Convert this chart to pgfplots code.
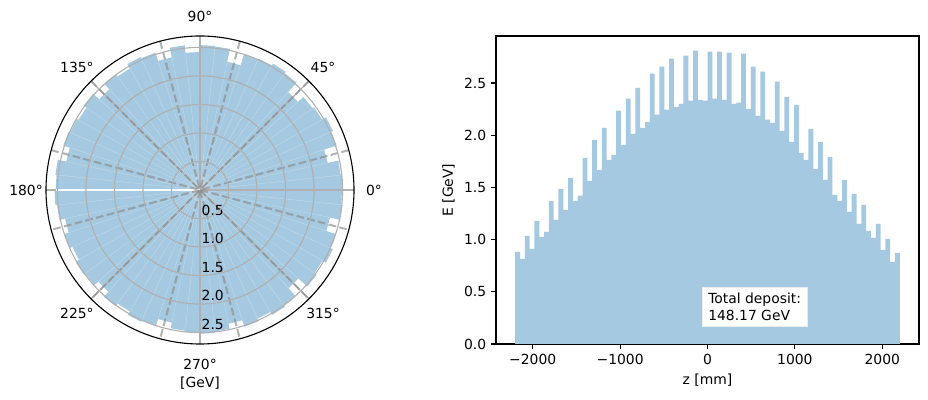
\documentclass[border=0pt]{standalone}
\usepackage{fontspec}
\setmainfont{DejaVu Sans}
\usepackage{pgfplots}
\pgfplotsset{compat=1.18}
\usepgfplotslibrary{polar}
\definecolor{barblue}{RGB}{165,201,225}
\definecolor{gridgray}{RGB}{176,176,176}
\pgfplotsset{dashline/.style={black!45, opacity=0.65, line width=1.5pt, dash pattern=on 5.55pt off 2.4pt}}
\pgfplotsset{radgrid/.style={gridgray, line width=0.8pt}}
\tikzset{rlab/.style={anchor=south west, inner sep=0pt, xshift=1pt, yshift=2pt, font=\fontsize{10}{12}\selectfont}}

\pgfplotstableread{
z E
-2200 0.882
-2145 0.815
-2090 1.035
-2035 0.911
-1980 1.179
-1925 1.026
-1870 1.074
-1815 1.371
-1760 1.189
-1705 1.486
-1650 1.285
-1595 1.592
-1540 1.371
-1485 1.422
-1430 1.783
-1375 1.563
-1320 1.956
-1265 1.668
-1210 2.071
-1155 1.764
-1100 1.812
-1045 2.234
-990 1.908
-935 2.349
-880 2.013
-825 2.454
-770 2.071
-715 2.128
-660 2.589
-605 2.196
-550 2.656
-495 2.244
-440 2.733
-385 2.272
-330 2.301
-275 2.761
-220 2.330
-165 2.809
-110 2.339
-55 2.330
0 2.800
55 2.349
110 2.800
165 2.339
220 2.790
275 2.301
330 2.311
385 2.780
440 2.253
495 2.656
550 2.186
605 2.608
660 2.148
715 2.119
770 2.512
825 2.042
880 2.368
935 1.937
990 2.291
1045 1.831
1100 1.764
1155 2.061
1210 1.678
1265 1.937
1320 1.572
1375 1.793
1430 1.429
1485 1.371
1540 1.572
1595 1.266
1650 1.438
1705 1.151
1760 1.333
1815 1.083
1870 1.016
1925 1.151
1980 0.901
2035 1.007
2090 0.786
2145 0.872
2200 0.872
}\histdata

\begin{document}
\begin{tikzpicture}
\useasboundingbox (0,0) rectangle (668.16pt,288pt);
\begin{polaraxis}[
  at={(144pt,151.2pt)}, anchor=center,
  scale only axis, width=221.76pt, height=221.76pt,
  ymin=0, ymax=2.7,
  xtick={0,45,...,315},
  xticklabels={0°,45°,90°,135°,180°,225°,270°,315°},
  ytick={0.5,1,1.5,2,2.5},
  yticklabels={},
  xmajorgrids=false, ymajorgrids=true,
  grid style={gridgray, line width=0.8pt},
  x axis line style={black, line width=0.8pt},
  y axis line style={draw=none},
  major tick style={draw=none},
  axis on top,
  tick label style={font=\fontsize{10}{12}\selectfont},
  xticklabel style={anchor=center, inner sep=0pt, outer sep=0pt, xshift={14.4pt*cos(\tick)}, yshift={14.4pt*sin(\tick)}},
]
\addplot[fill=barblue, draw=none] coordinates {
(0,0)(0,2.50)(6,2.50)(6,2.48)(12,2.48)(12,2.29)(18,2.29)(18,2.52)(24,2.52)(24,2.55)(30,2.55)(30,2.47)(36,2.47)(36,2.44)(42,2.44)(42,2.31)(48,2.31)(48,2.53)(54,2.53)(54,2.56)(60,2.56)(60,2.52)(66,2.52)(66,2.50)(72,2.50)(72,2.30)(78,2.30)(78,2.53)(84,2.53)(84,2.54)(90,2.54)(90,2.42)(96,2.42)(96,2.55)(102,2.55)(102,2.38)(108,2.38)(108,2.53)(114,2.53)(114,2.55)(120,2.55)(120,2.46)(126,2.46)(126,2.50)(132,2.50)(132,2.38)(138,2.38)(138,2.52)(144,2.52)(144,2.46)(150,2.46)(150,2.49)(156,2.49)(156,2.52)(162,2.52)(162,2.40)(168,2.40)(168,2.55)(174,2.55)(174,2.53)(180,2.53)(180,2.55)(186,2.55)(186,2.52)(192,2.52)(192,2.42)(198,2.42)(198,2.50)(204,2.50)(204,2.45)(210,2.45)(210,2.52)(216,2.52)(216,2.49)(222,2.49)(222,2.40)(228,2.40)(228,2.52)(234,2.52)(234,2.46)(240,2.46)(240,2.53)(246,2.53)(246,2.50)(252,2.50)(252,2.38)(258,2.38)(258,2.48)(264,2.48)(264,2.50)(270,2.50)(270,2.52)(276,2.52)(276,2.49)(282,2.49)(282,2.40)(288,2.40)(288,2.52)(294,2.52)(294,2.47)(300,2.47)(300,2.53)(306,2.53)(306,2.50)(312,2.50)(312,2.32)(318,2.32)(318,2.53)(324,2.53)(324,2.48)(330,2.48)(330,2.55)(336,2.55)(336,2.50)(342,2.50)(342,2.33)(348,2.33)(348,2.51)(354,2.51)(354,2.49)(360,2.49)(360,0)
};
\addplot[white, opacity=0.3, line width=0.3pt] coordinates {
(0,0)(0,2.49)(0,0)(6,2.48)(0,0)(12,2.29)(0,0)(18,2.29)(0,0)(24,2.52)(0,0)(30,2.47)(0,0)(36,2.44)(0,0)(42,2.31)(0,0)(48,2.31)(0,0)(54,2.53)(0,0)(60,2.52)(0,0)(66,2.50)(0,0)(72,2.30)(0,0)(78,2.30)(0,0)(84,2.53)(0,0)(90,2.42)(0,0)(96,2.42)(0,0)(102,2.38)(0,0)(108,2.38)(0,0)(114,2.53)(0,0)(120,2.46)(0,0)(126,2.46)(0,0)(132,2.38)(0,0)(138,2.38)(0,0)(144,2.46)(0,0)(150,2.46)(0,0)(156,2.49)(0,0)(162,2.40)(0,0)(168,2.40)(0,0)(174,2.53)(0,0)(186,2.52)(0,0)(192,2.42)(0,0)(198,2.42)(0,0)(204,2.45)(0,0)(210,2.45)(0,0)(216,2.49)(0,0)(222,2.40)(0,0)(228,2.40)(0,0)(234,2.46)(0,0)(240,2.46)(0,0)(246,2.50)(0,0)(252,2.38)(0,0)(258,2.38)(0,0)(264,2.48)(0,0)(270,2.50)(0,0)(276,2.49)(0,0)(282,2.40)(0,0)(288,2.40)(0,0)(294,2.47)(0,0)(300,2.47)(0,0)(306,2.50)(0,0)(312,2.32)(0,0)(318,2.32)(0,0)(324,2.48)(0,0)(330,2.48)(0,0)(336,2.50)(0,0)(342,2.33)(0,0)(348,2.33)(0,0)(354,2.49)(0,0)
};
\addplot[radgrid] coordinates {(0,2.7)(180,2.7)};
\addplot[radgrid] coordinates {(45,2.7)(225,2.7)};
\addplot[radgrid] coordinates {(90,2.7)(270,2.7)};
\addplot[radgrid] coordinates {(135,2.7)(315,2.7)};
\addplot[white, line width=0.8pt] coordinates {(180,0)(180,2.53)};
\addplot[dashline] coordinates {(15,2.7)(195,2.7)};
\addplot[dashline] coordinates {(45,2.7)(225,2.7)};
\addplot[dashline] coordinates {(75,2.7)(255,2.7)};
\addplot[dashline] coordinates {(105,2.7)(285,2.7)};
\addplot[dashline] coordinates {(135,2.7)(315,2.7)};
\addplot[dashline] coordinates {(165,2.7)(345,2.7)};
\node[rlab] at (axis cs:270,0.5) {0.5};
\node[rlab] at (axis cs:270,1.0) {1.0};
\node[rlab] at (axis cs:270,1.5) {1.5};
\node[rlab] at (axis cs:270,2.0) {2.0};
\node[rlab] at (axis cs:270,2.5) {2.5};
\end{polaraxis}
\node[font=\fontsize{10}{12}\selectfont] at (144pt,12.24pt) {[GeV]};

\begin{axis}[
  at={(357.12pt,40.32pt)}, anchor=south west,
  scale only axis, width=304.56pt, height=221.76pt,
  xmin=-2420, xmax=2420, ymin=0, ymax=2.95,
  xtick={-2000,-1000,0,1000,2000},
  xticklabels={−2000,−1000,0,1000,2000},
  ytick={0,0.5,1,1.5,2,2.5},
  yticklabels={0.0,0.5,1.0,1.5,2.0,2.5},
  tick align=outside, xtick pos=left, ytick pos=left,
  major tick length=3.5pt,
  every tick/.style={black, line width=0.8pt},
  axis line style={line width=0.8pt},
  tick label style={font=\fontsize{10}{12}\selectfont},
  label style={font=\fontsize{10}{12}\selectfont},
  xlabel={z [mm]}, ylabel={E [GeV]},
]
\addplot[ybar interval, fill=barblue, draw=none] table[x=z, y=E] {\histdata};
\node[anchor=south west, fill=white, draw=black!8, inner xsep=4.6pt, inner ysep=4.3pt, align=left, font=\fontsize{10}{12}\selectfont] at (rel axis cs:0.486,0.056) {Total deposit:\\148.17 GeV};
\end{axis}
\end{tikzpicture}
\end{document}
